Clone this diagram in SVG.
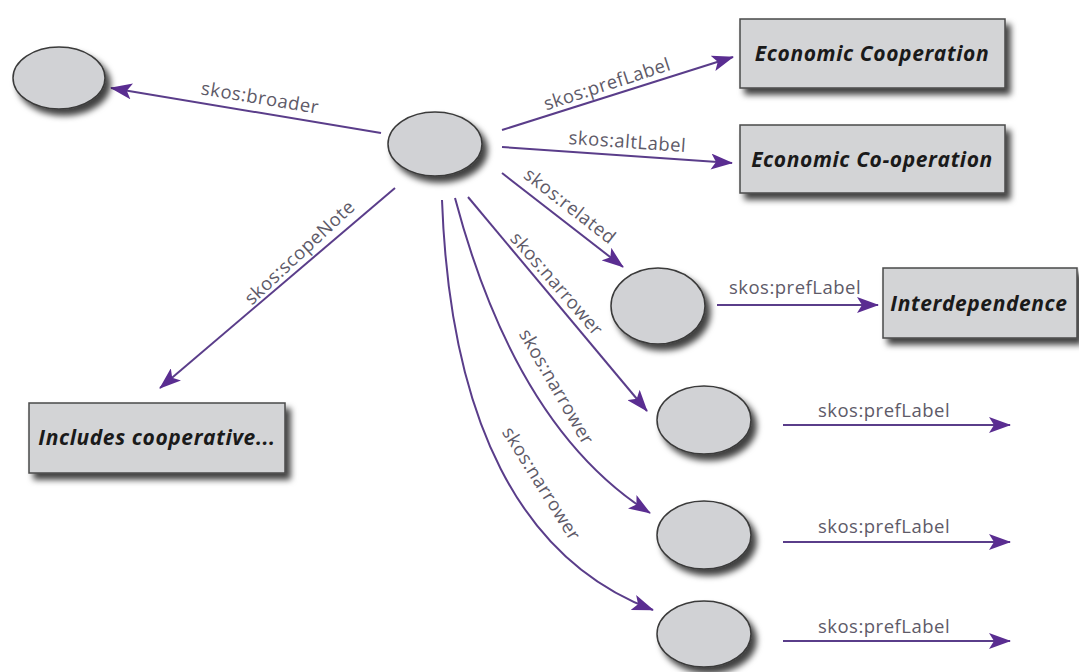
<svg xmlns="http://www.w3.org/2000/svg" width="1079" height="672" viewBox="0 0 1079 672">
<defs>
<filter id="sh" x="-20%" y="-20%" width="150%" height="160%">
<feDropShadow dx="5" dy="6" stdDeviation="3" flood-color="#000" flood-opacity="0.75"/>
</filter>
<marker id="ah" markerUnits="userSpaceOnUse" markerWidth="22" markerHeight="16" refX="21" refY="8" orient="auto">
<path d="M0,0 L22,8 L0,16 L5,8 Z" fill="#5a2d91"/>
</marker>
</defs>
<style>
.n{fill:#d1d2d5;stroke:#3a3a3a;stroke-width:1.5;filter:url(#sh)}
.b{fill:#d3d4d6;stroke:#4a4a4a;stroke-width:1.5;filter:url(#sh)}
.c{fill:none;stroke:#5a3d8a;stroke-width:2;marker-end:url(#ah)}
.l{font-family:"Open Sans",Lato,sans-serif;font-size:18.5px;letter-spacing:0.5px;fill:#5e5a68;text-anchor:middle}
.t{font-family:"Open Sans",Lato,sans-serif;font-size:21px;letter-spacing:0.6px;font-weight:bold;font-style:italic;fill:#1a1a1a;text-anchor:middle}
</style>
<rect width="1079" height="672" fill="#fff"/>
<g id="connectors">
<line class="c" x1="381" y1="133" x2="111" y2="88"/>
<line class="c" x1="502" y1="130" x2="733" y2="57"/>
<line class="c" x1="502" y1="147" x2="732" y2="163"/>
<line class="c" x1="502" y1="173" x2="623" y2="267"/>
<line class="c" x1="468" y1="197" x2="647" y2="411"/>
<path class="c" d="M455,198 C490,330 550,450 650,513"/>
<path class="c" d="M442,200 C450,420 520,560 653,610"/>
<line class="c" x1="395" y1="188" x2="160" y2="388"/>
<line class="c" x1="717" y1="305" x2="878" y2="305"/>
<line class="c" x1="783" y1="425" x2="1010" y2="425"/>
<line class="c" x1="783" y1="542" x2="1010" y2="542"/>
<line class="c" x1="783" y1="641" x2="1010" y2="641"/>
<text class="l" transform="translate(259,104) rotate(9.5)">skos:broader</text>
<text class="l" transform="translate(609,90) rotate(-18)">skos:prefLabel</text>
<text class="l" transform="translate(627,148) rotate(4)">skos:altLabel</text>
<text class="l" transform="translate(566,211) rotate(38)">skos:related</text>
<text class="l" transform="translate(552,288) rotate(49)">skos:narrower</text>
<text class="l" transform="translate(551,390) rotate(60)">skos:narrower</text>
<text class="l" transform="translate(536,487) rotate(58)">skos:narrower</text>
<text class="l" transform="translate(304,257) rotate(-43)">skos:scopeNote</text>
<text class="l" x="795" y="294">skos:prefLabel</text>
<text class="l" x="884" y="417">skos:prefLabel</text>
<text class="l" x="884" y="533">skos:prefLabel</text>
<text class="l" x="884" y="633">skos:prefLabel</text>
</g>
<g id="broaderConcept"><ellipse class="n" cx="59" cy="78" rx="46" ry="31"/></g>
<g id="concept"><ellipse class="n" cx="435" cy="144" rx="47" ry="32"/></g>
<g id="relatedConcept"><ellipse class="n" cx="658" cy="306" rx="47" ry="38"/></g>
<g id="narrower1"><ellipse class="n" cx="704" cy="420" rx="47" ry="34"/></g>
<g id="narrower2"><ellipse class="n" cx="704" cy="535" rx="47" ry="34"/></g>
<g id="narrower3"><ellipse class="n" cx="704" cy="634" rx="47" ry="33"/></g>
<g id="prefLabelBox"><rect class="b" x="740" y="19" width="265" height="69"/><text class="t" x="872" y="61">Economic Cooperation</text></g>
<g id="altLabelBox"><rect class="b" x="740" y="125" width="265" height="68"/><text class="t" x="872" y="167">Economic Co-operation</text></g>
<g id="interdependenceBox"><rect class="b" x="883" y="268" width="194" height="70"/><text class="t" x="979" y="311">Interdependence</text></g>
<g id="scopeNoteBox"><rect class="b" x="29" y="403" width="256" height="70"/><text class="t" x="157" y="445">Includes cooperative...</text></g>
</svg>
